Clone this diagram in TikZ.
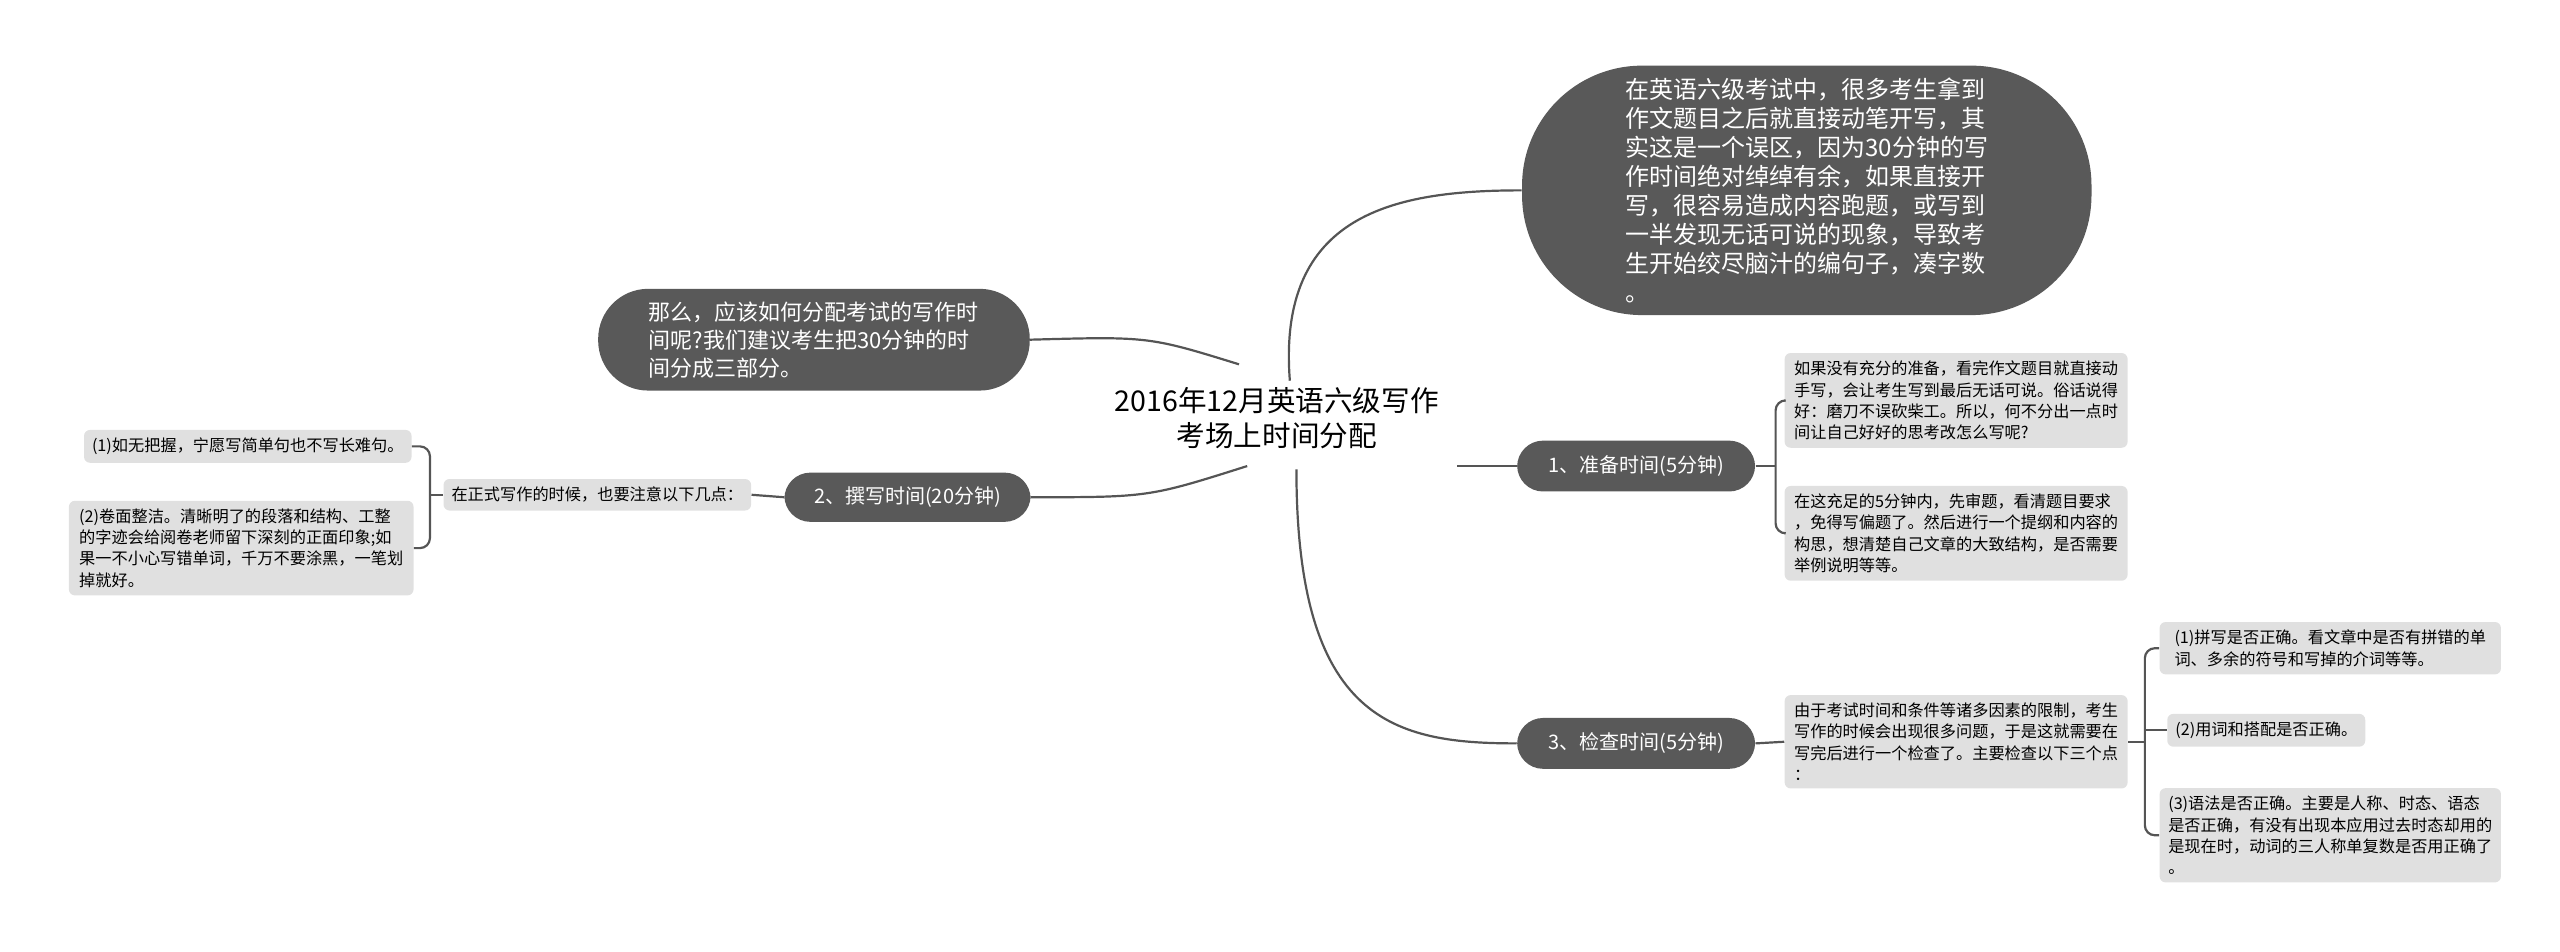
\documentclass[tikz,border=0pt]{standalone}
\usepackage{fontspec}
\setmainfont{Noto Sans CJK SC}
\begin{document}
\begin{tikzpicture}[x=0.8205pt,y=-0.8205pt,
  dark/.style={fill=darkg,text=white,align=left,inner xsep=8pt,inner ysep=5pt},
  light/.style={fill=lightg,rounded corners=3pt,align=left,inner sep=4pt,font=\fontsize{8.1pt}{10.6pt}\selectfont},
  ln/.style={draw=lineg,line width=1.1pt},
  br/.style={ln,rounded corners=5pt}]
\definecolor{darkg}{HTML}{595959}
\definecolor{lightg}{HTML}{E0E0E0}
\definecolor{lineg}{HTML}{555555}
\useasboundingbox (0,0) rectangle (1560,580);
\node[align=center,font=\fontsize{14.3pt}{17.5pt}\selectfont] (root) at (778,255) {2016年12月英语六级写作\\考场上时间分配};
\node[dark,rounded corners=60pt,minimum width=347*0.8205pt,minimum height=152*0.8205pt,font=\fontsize{12pt}{14.5pt}\selectfont] (top) at (1101,116) {在英语六级考试中，很多考生拿到\\作文题目之后就直接动笔开写，其\\实这是一个误区，因为30分钟的写\\作时间绝对绰绰有余，如果直接开\\写，很容易造成内容跑题，或写到\\一半发现无话可说的现象，导致考\\生开始绞尽脑汁的编句子，凑字数\\。};
\node[dark,rounded corners=25pt,minimum width=263*0.8205pt,minimum height=62*0.8205pt,font=\fontsize{11pt}{14pt}\selectfont] (lb) at (496,207) {那么，应该如何分配考试的写作时\\间呢?我们建议考生把30分钟的时\\间分成三部分。};
\node[dark,rounded corners=13pt,minimum width=145*0.8205pt,minimum height=31*0.8205pt,font=\fontsize{10pt}{12pt}\selectfont] (p1) at (997,284) {1、准备时间(5分钟)};
\node[dark,rounded corners=13pt,minimum width=150*0.8205pt,minimum height=30*0.8205pt,font=\fontsize{10pt}{12pt}\selectfont] (p2) at (553,303) {2、撰写时间(20分钟)};
\node[dark,rounded corners=13pt,minimum width=145*0.8205pt,minimum height=31*0.8205pt,font=\fontsize{10pt}{12pt}\selectfont] (p3) at (997,453) {3、检查时间(5分钟)};
\node[light,minimum width=209*0.8205pt] (b1) at (1192,244) {如果没有充分的准备，看完作文题目就直接动\\手写，会让考生写到最后无话可说。俗话说得\\好：磨刀不误砍柴工。所以，何不分出一点时\\间让自己好好的思考改怎么写呢?};
\node[light,minimum width=209*0.8205pt] (b2) at (1192,325) {在这充足的5分钟内，先审题，看清题目要求\\，免得写偏题了。然后进行一个提纲和内容的\\构思，想清楚自己文章的大致结构，是否需要\\举例说明等等。};
\node[light,minimum width=209*0.8205pt] (b3) at (1192,452) {由于考试时间和条件等诸多因素的限制，考生\\写作的时候会出现很多问题，于是这就需要在\\写完后进行一个检查了。主要检查以下三个点\\：};
\node[light,minimum width=208*0.8205pt] (s1) at (1420,395) {(1)拼写是否正确。看文章中是否有拼错的单\\词、多余的符号和写掉的介词等等。};
\node[light] (s2) at (1381,445) {(2)用词和搭配是否正确。};
\node[light,minimum width=208*0.8205pt] (s3) at (1420,509) {(3)语法是否正确。主要是人称、时态、语态\\是否正确，有没有出现本应用过去时态却用的\\是现在时，动词的三人称单复数是否用正确了\\。};
\node[light] (l0) at (364,301.5) {在正式写作的时候，也要注意以下几点：};
\node[light] (l1) at (151,272) {(1)如无把握，宁愿写简单句也不写长难句。};
\node[light,minimum width=210*0.8205pt] (l2) at (147,334) {(2)卷面整洁。清晰明了的段落和结构、工整\\的字迹会给阅卷老师留下深刻的正面印象;如\\果一不小心写错单词，千万不要涂黑，一笔划\\掉就好。};
% root connectors
\coordinate (rt) at (786,232);
\coordinate (rb) at (790,286);
\coordinate (rr) at (888,284);
\coordinate (rl1) at (755,222);
\coordinate (rl2) at (760,284);
\draw[ln] (rt) .. controls (778,130) and (850,116) .. (top.west);
\draw[ln] (rb) .. controls (790,440) and (850,453) .. (p3.west);
\draw[ln] (rr) -- (p1.west);
\draw[ln] (rl1) .. controls (700,205) .. (lb.east);
\draw[ln] (rl2) .. controls (700,303) .. (p2.east);
% brackets
\coordinate (bx1) at (1082,284);
\draw[ln] (p1.east) -- (bx1);
\draw[br] (b1.west) -| (bx1) |- (b2.west);
\draw[ln] (p3.east) -- (b3.west);
\coordinate (bx3) at (1307,452);
\draw[ln] (b3.east) -- (bx3);
\draw[br] (s1.west) -| (bx3) |- (s3.west);
\draw[ln] (bx3) |- (s2.west);
\draw[ln] (p2.west) -- (l0.east);
\coordinate (bx0) at (262,301.5);
\draw[ln] (l0.west) -- (bx0);
\draw[br] (l1.east) -| (bx0) |- (l2.east);
\end{tikzpicture}
\end{document}
